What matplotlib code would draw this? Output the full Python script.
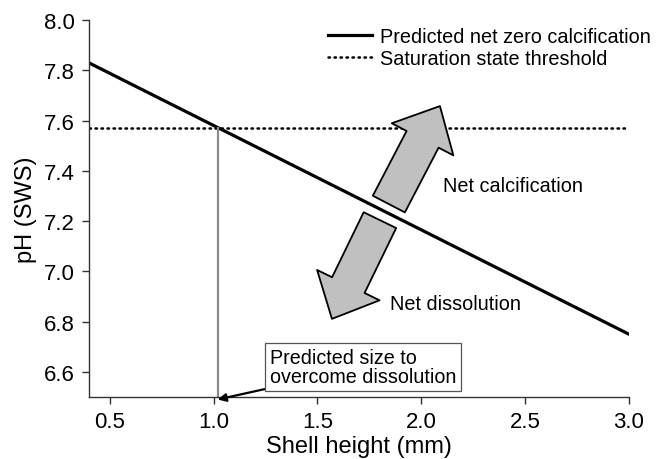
import matplotlib.pyplot as plt
from matplotlib.patches import FancyArrowPatch

plt.rcParams['font.family'] = ['Liberation Sans', 'DejaVu Sans']

# predicted net-zero calcification line
shell_height = [0.4, 3.0]
ph_net_zero = [7.83, 6.75]

# saturation state threshold and the size where the two meet
threshold_ph = 7.57
critical_size = 1.02

x_ticks = [0.5, 1.0, 1.5, 2.0, 2.5, 3.0]
y_ticks = [6.6, 6.8, 7.0, 7.2, 7.4, 7.6, 7.8, 8.0]

fig = plt.figure(figsize=(6.62, 4.6), dpi=100)
ax = fig.add_axes([0.1344, 0.1348, 0.8156, 0.8192])

net_zero, = ax.plot(shell_height, ph_net_zero, color='black', lw=2.3,
                    label='Predicted net zero calcification')
thresh, = ax.plot([0.4, 2.99], [threshold_ph, threshold_ph], color='black',
                  lw=1.8, linestyle=(0, (0.6, 1.8)), dash_capstyle='round',
                  label='Saturation state threshold')
ax.plot([critical_size, critical_size], [6.5, threshold_ph], color='#8a8a8a', lw=1.6)

ax.set_xlim(0.4, 3.0)
ax.set_ylim(6.5, 8.0)
ax.set_xticks(x_ticks)
ax.set_yticks(y_ticks)
ax.set_xticklabels([f'{v:.1f}' for v in x_ticks])
ax.set_yticklabels([f'{v:.1f}' for v in y_ticks])
ax.tick_params(axis='both', labelsize=16, length=5, width=1, color='#333333', pad=5)
for side in ['top', 'right']:
    ax.spines[side].set_visible(False)
for side in ['left', 'bottom']:
    ax.spines[side].set_color('#333333')
    ax.spines[side].set_linewidth(1)

ax.set_xlabel('Shell height (mm)', fontsize=17, labelpad=2)
ax.set_ylabel('pH (SWS)', fontsize=17, labelpad=5)

ax.legend(handles=[net_zero, thresh], loc='upper right', bbox_to_anchor=(1.073, 1.03),
          frameon=False, fontsize=14.3, handlelength=2.2, handletextpad=0.4,
          labelspacing=0.15)

# big block arrows for the two regimes
arrow_style = 'simple,head_length=27,head_width=50,tail_width=26'
for start, end in [((1.844, 7.268), (2.090, 7.658)),
                   ((1.801, 7.204), (1.570, 6.811))]:
    ax.add_patch(FancyArrowPatch(start, end, arrowstyle=arrow_style,
                                 mutation_scale=1, shrinkA=0, shrinkB=0,
                                 facecolor='#c0c0c0', edgecolor='black', lw=1.3,
                                 zorder=3))

ax.text(2.104, 7.34, 'Net calcification', fontsize=14.3, va='center', ha='left')
ax.text(1.849, 6.874, 'Net dissolution', fontsize=14.3, va='center', ha='left')

ax.annotate('Predicted size to\novercome dissolution',
            xy=(critical_size, 6.49), xytext=(1.271, 6.618),
            fontsize=14.2, va='center', ha='left', linespacing=1.0,
            bbox=dict(boxstyle='square,pad=0.25', facecolor='white',
                      edgecolor='#555555', lw=0.9),
            arrowprops=dict(arrowstyle='-|>', color='black', lw=1.6,
                            mutation_scale=12, shrinkA=0, shrinkB=0),
            annotation_clip=False)

fig.savefig('out.png', dpi=100)
